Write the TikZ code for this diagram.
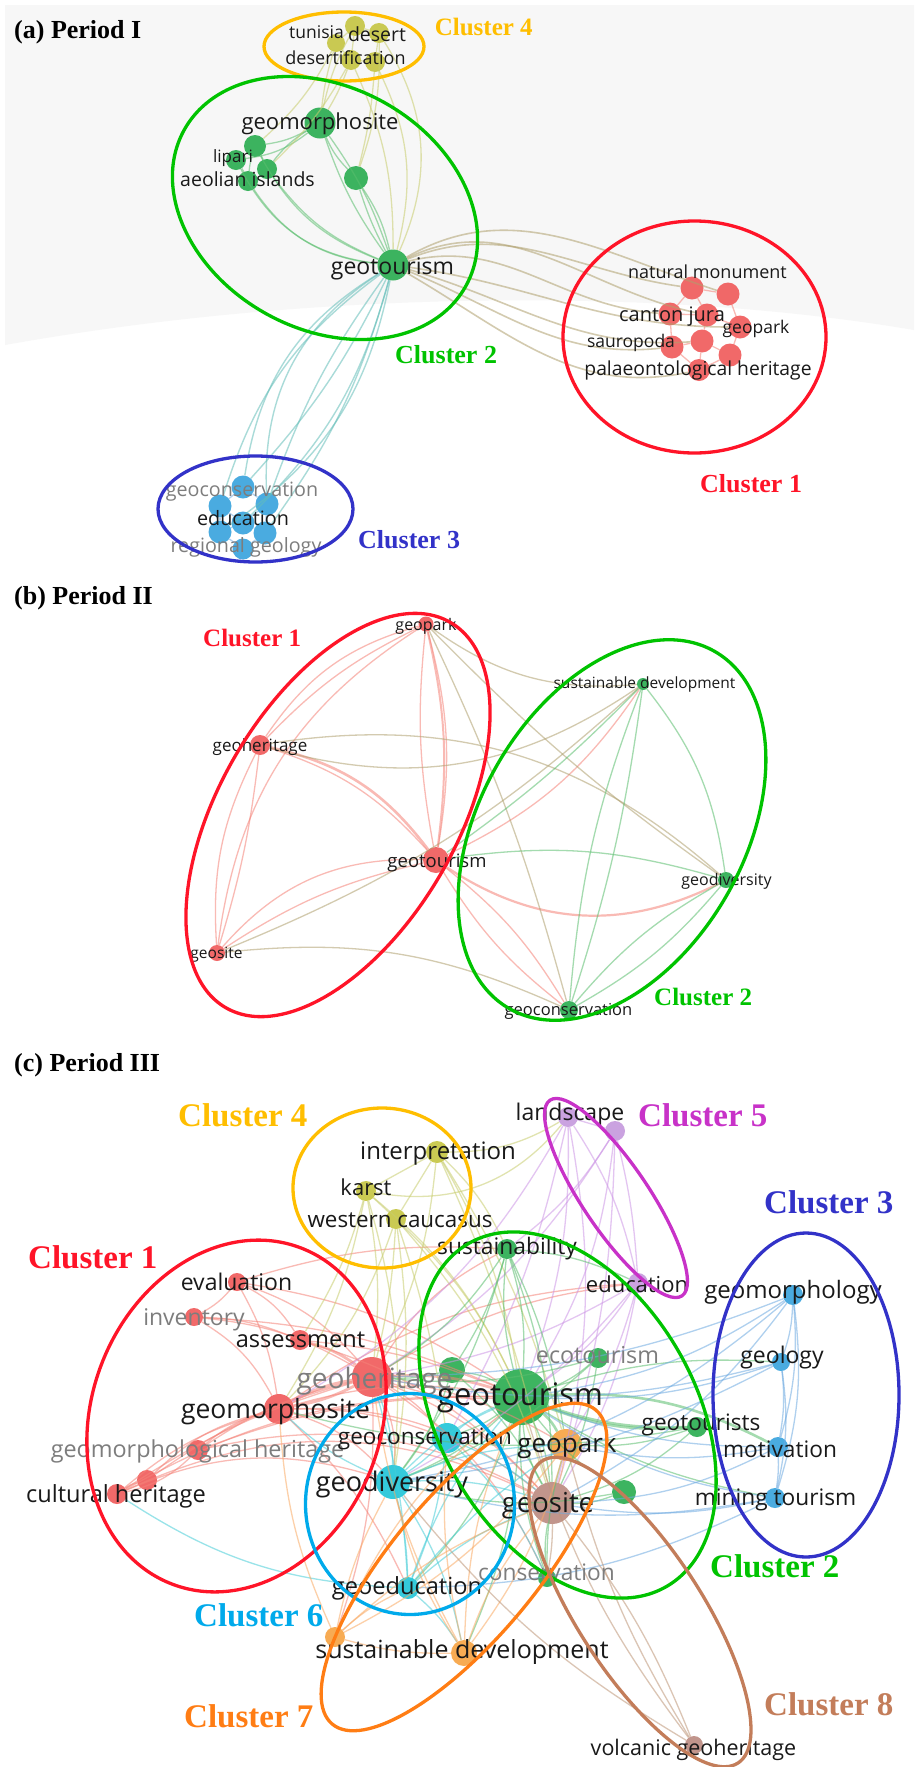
\documentclass[tikz,border=0pt]{standalone}
\usepackage{fontspec}
\setmainfont{Liberation Serif}
\newfontfamily\osans{Open Sans}
\newcommand\fsz[1]{\fontsize{#1}{#1}\selectfont}
\definecolor{nodeRed}{RGB}{240,85,85}
\definecolor{nodeGreen}{RGB}{35,170,75}
\definecolor{nodeBlue}{RGB}{50,160,220}
\definecolor{nodeOlive}{RGB}{195,195,60}
\definecolor{nodeCyan}{RGB}{25,195,215}
\definecolor{nodeOrange}{RGB}{247,160,60}
\definecolor{nodePurple}{RGB}{195,150,220}
\definecolor{nodeBrown}{RGB}{185,135,125}
\definecolor{cRed}{RGB}{255,20,40}
\definecolor{cGreen}{RGB}{0,195,0}
\definecolor{cBlue}{RGB}{50,50,200}
\definecolor{cGold}{RGB}{255,190,0}
\definecolor{cMag}{RGB}{200,50,200}
\definecolor{cCyan}{RGB}{0,170,235}
\definecolor{cOrange}{RGB}{255,125,20}
\definecolor{cBrown}{RGB}{195,125,90}
\definecolor{labBlack}{RGB}{25,25,25}
\definecolor{labGray}{RGB}{125,125,125}
\definecolor{edRed}{RGB}{245,130,120}
\definecolor{edGreen}{RGB}{90,190,110}
\definecolor{edBlue}{RGB}{110,170,225}
\definecolor{edOlive}{RGB}{200,205,110}
\definecolor{edCyan}{RGB}{70,205,215}
\definecolor{edOrange}{RGB}{250,170,100}
\definecolor{edPurple}{RGB}{205,150,230}
\definecolor{edBrown}{RGB}{190,150,120}
\definecolor{edTeal}{RGB}{100,190,185}
\definecolor{edKhaki}{RGB}{175,160,110}
\definecolor{bgGray}{RGB}{247,247,247}
\begin{document}
\begin{tikzpicture}[x=1pt,y=1pt,
  nd/.style={circle,inner sep=0pt,draw=none,fill opacity=.88,minimum size=#1},
  nR/.style={nd=#1,fill=nodeRed}, nG/.style={nd=#1,fill=nodeGreen},
  nB/.style={nd=#1,fill=nodeBlue}, nY/.style={nd=#1,fill=nodeOlive},
  nC/.style={nd=#1,fill=nodeCyan}, nO/.style={nd=#1,fill=nodeOrange},
  nP/.style={nd=#1,fill=nodePurple}, nN/.style={nd=#1,fill=nodeBrown},
  lb/.style={anchor=base,inner sep=0pt,text=labBlack,font=\osans\fsz{#1}},
  lg/.style={lb=#1,text=labGray},
  cl/.style={anchor=base west,inner sep=0pt,font=\bfseries\fsz{#1}},
  ell/.style={line width=3.3pt},
  ed/.style={draw opacity=.55,line width=1.3pt},
  eR/.style={ed,draw=edRed}, eG/.style={ed,draw=edGreen}, eB/.style={ed,draw=edBlue},
  eY/.style={ed,draw=edOlive}, eC/.style={ed,draw=edCyan}, eO/.style={ed,draw=edOrange},
  eP/.style={ed,draw=edPurple}, eN/.style={ed,draw=edBrown}, eT/.style={ed,draw=edTeal},
  eK/.style={ed,draw=edKhaki}]
\useasboundingbox (0,0) rectangle (914,-1767);
\fill[white] (0,0) rectangle (914,-1767);
% ================= PANEL (a) =================
\fill[bgGray] (5,-5) -- (914,-5) -- (914,-330) .. controls (650,-285) and (300,-292) .. (5,-345) -- cycle;
\node[nY=20] (ay1) at (355,-26) {};
\node[nY=20] (ay2) at (379,-33) {};
\node[nY=18] (ay3) at (336,-43) {};
\node[nY=20] (ay4) at (351,-60) {};
\node[nY=20] (ay5) at (375,-62) {};
\node[nG=31] (agm) at (320,-123) {};
\node[nG=22] (alp1) at (255,-146) {};
\node[nG=20] (alp2) at (236,-160) {};
\node[nG=20] (aae1) at (267,-169) {};
\node[nG=20] (aae2) at (248,-181) {};
\node[nG=24] (aun) at (356,-178) {};
\node[nG=31] (agt) at (393,-265) {};
\node[nR=23] (ar1) at (692,-288) {};
\node[nR=23] (ar2) at (728,-294) {};
\node[nR=23] (ar3) at (670,-314) {};
\node[nR=23] (ar4) at (707,-315) {};
\node[nR=23] (ar5) at (740,-327) {};
\node[nR=23] (ar6) at (702,-341) {};
\node[nR=23] (ar7) at (672,-347) {};
\node[nR=23] (ar8) at (730,-355) {};
\node[nR=22] (ar9) at (699,-370) {};
\node[nB=23] (ab1) at (243,-487) {};
\node[nB=23] (ab2) at (220,-506) {};
\node[nB=23] (ab3) at (267,-504) {};
\node[nB=23] (ab4) at (243,-523) {};
\node[nB=23] (ab5) at (220,-532) {};
\node[nB=23] (ab6) at (265,-533) {};
\node[nB=21] (ab7) at (243,-549) {};
\foreach \a/\b/\k in {agt/agm/8,agt/agm/-8,agt/alp1/20,agt/alp2/28,agt/aae1/15,agt/aae2/25,agt/aun/5,agt/aun/-10,agm/alp1/10,agm/aae1/-10,agm/alp2/15,alp1/aae1/5,alp2/aae2/5,agm/aun/-10,alp1/aae2/-5}
  \draw[eG] (\a) to[bend left=\k] (\b);
\foreach \a/\b/\k in {agt/ay4/-12,agt/ay5/-20,agt/ay2/-28,agm/ay3/5,agm/ay4/-5,alp1/ay3/-10,aae1/ay4/-8,aun/ay5/-5,aun/ay2/-10,ay1/ay2/0,ay1/ay3/0,ay3/ay4/0,ay4/ay5/0,ay2/ay5/0,ay1/ay4/0,agm/ay1/8}
  \draw[eY] (\a) to[bend left=\k] (\b);
\foreach \r/\o/\i in {ar1/22/172,ar3/14/176,ar4/26/168,ar2/30/162,ar7/-22/186,ar9/-30/192,ar6/-16/184,ar5/-8/180}
  \draw[eK,line width=1.6pt] (agt) to[out=\o,in=\i] (\r);
\foreach \b/\k in {ab1/-25,ab2/-18,ab3/-30,ab4/15,ab5/22,ab6/10,ab1/8,ab3/-8}
  \draw[eT,line width=1.4pt] (agt) to[bend left=\k] (\b);
\foreach \a/\b in {ar1/ar2,ar1/ar3,ar1/ar4,ar2/ar5,ar3/ar4,ar3/ar7,ar4/ar6,ar5/ar8,ar6/ar9,ar7/ar9,ar8/ar9,ar4/ar5,ar6/ar7,ar6/ar8}
  \draw[eR] (\a) -- (\b);
\foreach \a/\b in {ab1/ab2,ab1/ab3,ab2/ab4,ab3/ab4,ab4/ab5,ab4/ab6,ab5/ab7,ab6/ab7,ab2/ab5,ab3/ab6}
  \draw[eB] (\a) -- (\b);
\node[lb=17.5] (atun) at (316.5,-38) {tunisia};
\node[lb=19.5] (ades) at (377,-41) {desert};
\node[lb=18] (adesf) at (345.5,-64) {desertification};
\node[lb=22] (agml) at (320,-129) {geomorphosite};
\node[lb=17] (alpl) at (233,-162) {lipari};
\node[lb=19.5] (aael) at (247.5,-186) {aeolian islands};
\node[lb=23] (agtl) at (392.5,-274) {geotourism};
\node[lb=18] (anml) at (707.5,-278) {natural monument};
\node[lb=20] (acjl) at (672,-321) {canton jura};
\node[lb=17.5] (agpl) at (756,-333) {geopark};
\node[lb=17.5] (asal) at (631,-347) {sauropoda};
\node[lb=19.3] (apal) at (698,-375) {palaeontological heritage};
\node[lg=19.7] (agcl) at (242,-496) {geoconservation};
\node[lb=19.8] (aedl) at (243,-525) {education};
\node[lg=19.7] (argl) at (246,-552) {regional geology};
\draw[ell,draw=cGold] (344,-46.5) ellipse [x radius=80, y radius=34.5];
\draw[ell,draw=cGreen,rotate around={-29:(325,-208)}] (325,-208) ellipse [x radius=161, y radius=121];
\draw[ell,draw=cRed] (694.5,-337) ellipse [x radius=131.5, y radius=116];
\draw[ell,draw=cBlue] (255.5,-509) ellipse [x radius=97.5, y radius=53];
\node[cl=26] (ata) at (14,-38) {(a) Period I};
\node[cl=25,text=cGold] (ac4) at (434.6,-35) {Cluster 4};
\node[cl=26,text=cGreen] (ac2) at (395,-363) {Cluster 2};
\node[cl=26,text=cRed] (ac1) at (700,-492) {Cluster 1};
\node[cl=26,text=cBlue] (ac3) at (358,-548) {Cluster 3};
% ================= PANEL (b) =================
\node[nR=15] (bgp) at (426,-624) {};
\node[nG=12] (bsd) at (643,-684) {};
\node[nR=20] (bgh) at (260,-745) {};
\node[nR=26] (bgt) at (436,-860) {};
\node[nR=16] (bgs) at (217,-953) {};
\node[nG=18] (bgc) at (569,-1010) {};
\node[nG=16] (bgd) at (726,-880) {};
\foreach \a/\b/\k in {bgp/bgh/-20,bgp/bgh/-10,bgp/bgs/-25,bgp/bgt/-8,bgp/bgt/12,bgh/bgt/15,bgh/bgs/-15,bgh/bgs/5,bgs/bgt/25,bgs/bgt/10,bgt/bsd/-15,bgt/bgc/10,bgt/bgc/-10}
  \draw[eR] (\a) to[bend left=\k] (\b);
\draw[eR,line width=2.6pt] (bgh) to[bend left=20] (bgt);
\draw[eR,line width=2.2pt] (bgt) to[bend left=-30] (bgd);
\draw[eR,line width=2pt] (bgp) to[bend left=10] (bgt);
\foreach \a/\b/\k in {bgp/bsd/-20,bgh/bgd/25,bgh/bsd/-25,bgp/bgd/-5,bgp/bgc/5,bgs/bgc/15,bgs/bsd/-10}
  \draw[eK] (\a) to[bend left=\k] (\b);
\foreach \a/\b/\k in {bsd/bgd/15,bsd/bgc/5,bsd/bgc/-8,bgd/bgc/10,bgd/bgc/-10,bgt/bgd/12,bsd/bgt/5}
  \draw[eG] (\a) to[bend left=\k] (\b);
\node[lb=16] (bgpl) at (426,-630) {geopark};
\node[lb=15.5] (bsdl) at (644.5,-688) {sustainable development};
\node[lb=17] (bghl) at (260,-751) {geoheritage};
\node[lb=18.5] (bgtl) at (437,-867) {geotourism};
\node[lb=15.5] (bgsl) at (216.5,-958) {geosite};
\node[lb=16.5] (bgcl) at (568.5,-1015) {geoconservation};
\node[lb=16] (bgdl) at (726.5,-885) {geodiversity};
\draw[ell,draw=cRed,rotate around={59.7:(338,-815)}] (338,-815) ellipse [x radius=223, y radius=118.5];
\draw[ell,draw=cGreen,rotate around={60:(612,-830)}] (612,-830) ellipse [x radius=206, y radius=132];
\node[cl=26] (btb) at (14,-604) {(b) Period II};
\node[cl=25,text=cRed] (bc1) at (203,-646) {Cluster 1};
\node[cl=25,text=cGreen] (bc2) at (654,-1005) {Cluster 2};
% ================= PANEL (c) =================
\node[nY=22] (cint) at (437,-1152) {};
\node[nY=20] (ckar) at (366,-1191) {};
\node[nY=20] (cwc) at (396,-1219) {};
\node[nP=20] (cls) at (568,-1117) {};
\node[nP=20] (cp2) at (615,-1131) {};
\node[nP=20] (cedu) at (638,-1283) {};
\node[nB=20] (cgmy) at (793,-1295) {};
\node[nB=18] (cgeol) at (781,-1362) {};
\node[nB=20] (cmot) at (778,-1447) {};
\node[nB=20] (cmin) at (775,-1498) {};
\node[nR=18] (cev) at (237,-1282) {};
\node[nR=18] (cinv) at (194,-1317) {};
\node[nR=20] (cas) at (300,-1340) {};
\node[nR=40] (cgh) at (372,-1377) {};
\node[nR=30] (cgm) at (279,-1409) {};
\node[nR=20] (cgmh) at (198,-1450) {};
\node[nR=20] (cr7) at (147,-1480) {};
\node[nR=20] (cch) at (117,-1494) {};
\node[nC=30] (cgcons) at (447,-1438) {};
\node[nC=34] (cgdiv) at (393,-1482) {};
\node[nC=22] (cgedu) at (408,-1588) {};
\node[nG=56] (cgt) at (521,-1397) {};
\node[nG=20] (csus) at (507,-1249) {};
\node[nG=20] (ceco) at (598,-1358) {};
\node[nG=26] (cg4) at (452,-1370) {};
\node[nG=20] (cgts) at (697,-1427) {};
\node[nG=24] (cg6) at (624,-1492) {};
\node[nG=18] (ccons) at (547,-1578) {};
\node[nO=32] (cgp) at (566,-1445) {};
\node[nO=26] (csd) at (464,-1653) {};
\node[nO=20] (co3) at (335,-1637) {};
\node[nN=42] (cgs) at (552,-1503) {};
\node[nN=18] (cvg) at (694,-1745) {};
\foreach \a/\b/\k in {cev/cas/15,cev/cgh/15,cev/cgm/10,cinv/cas/10,cinv/cgh/12,cinv/cgm/15,cgmh/cgm/12,cgmh/cgh/10,cch/cgm/12,cch/cgh/8,cr7/cgm/15,cr7/cgh/10,cch/cr7/10,cgmh/cch/15,cev/cinv/10,cgh/cgdiv/15,cgh/cgcons/10,cgh/cgs/12,cgh/cgp/10,cgh/csus/15,cgm/cgt/12,cgm/cgdiv/15,cgm/cgcons/10,cgm/cgs/20,cch/cgs/25,cch/cgt/15,cev/cgt/12,cas/cgt/8,cinv/cgt/10,cev/csus/10,cgm/cedu/15,cgh/ccons/15,cgmh/cgt/10,cgh/cedu/12,cch/cgdiv/20,cgm/cgedu/10,cgh/co3/10,cgh/cgt/-10,cas/cgs/15,cgmh/cgs/20}
  \draw[eR] (\a) to[bend left=\k] (\b);
\foreach \a/\b/\k in {cas/cgh/10,cgm/cgh/10,cgh/cgt/10,cgm/cgh/-8}
  \draw[eR,line width=2.8pt] (\a) to[bend left=\k] (\b);
\foreach \a/\b/\k in {cint/ckar/0,cint/cwc/0,ckar/cwc/0,cint/cgt/10,ckar/cgt/12,cwc/cgt/10,cint/cgh/10,ckar/cgh/8,cwc/cgs/12,cint/cgp/8,ckar/cgdiv/10,cwc/cgdiv/8,cint/csus/10,ckar/cgm/10,cwc/cgm/12,cwc/cgcons/5,cint/cls/-15,ckar/cas/8,cint/cgs/6,cwc/cgh/5,ckar/cls/-30}
  \draw[eY] (\a) to[bend left=\k] (\b);
\foreach \a/\b/\k in {cls/cp2/0,cls/cedu/10,cp2/cedu/5,cls/cgt/10,cp2/cgt/12,cedu/cgt/10,cls/cgs/12,cedu/cgs/10,cp2/cgh/12,cedu/cgh/10,cedu/cgdiv/10,cls/cgcons/8,cp2/csus/10,cedu/cgp/8,cls/cgm/15,cp2/cgs/8}
  \draw[eP] (\a) to[bend left=\k] (\b);
\foreach \a/\b/\k in {csus/cgt/10,csus/cgh/12,csus/cgs/10,csus/cgp/8,csus/cgdiv/10,ceco/cgt/10,ceco/cgs/8,cg4/cgt/10,cgts/cgs/12,cg6/cgt/10,cg6/cgs/10,ccons/cgt/10,ccons/cgs/8,ccons/cgp/8,cgt/cgs/10,cgt/cgdiv/10,cgt/cgcons/8,cgt/cgedu/12,cgts/cgp/10,cgt/csd/10,csus/cedu/10,ceco/cgh/10,cg4/cgs/10,cg4/cgh/8,cg4/cgdiv/10,csus/cg4/8,cgts/cgm/12,cg6/cgdiv/12,ceco/cgdiv/10,cgt/cgs/-12,csus/cgt/-10,cgt/cgeol/10,cgt/cmin/-10}
  \draw[eG] (\a) to[bend left=\k] (\b);
\foreach \a/\b/\k in {cgt/cgp/10,cgts/cgt/10,cgt/cmot/15,cgt/cgts/-12}
  \draw[eG,line width=2.6pt] (\a) to[bend left=\k] (\b);
\foreach \a/\b/\k in {cgmy/cgeol/8,cgmy/cmot/10,cgmy/cmin/12,cgeol/cmot/8,cgeol/cmin/10,cmot/cmin/5,cgmy/cgt/12,cgeol/cgt/10,cmot/cgt/10,cmin/cgt/12,cmot/cgs/12,cmin/cgs/10,cgmy/cgs/12,cgeol/cgdiv/10,cmin/cgdiv/12,cmot/cgp/10,cgmy/cgh/10,cmin/cgedu/12,cgeol/cgh/12,cgmy/cgdiv/15}
  \draw[eB] (\a) to[bend left=\k] (\b);
\foreach \a/\b/\k in {cgcons/cgdiv/5,cgcons/cgedu/8,cgdiv/cgedu/6,cgdiv/cgs/10,cgcons/cgs/8,cgedu/cgs/10,cgedu/cgt/10,cgdiv/cgp/10,cgedu/cgp/8,cgdiv/csd/10,cgedu/csd/8,cgcons/ccons/10,cgdiv/cgm/10,cgedu/cch/15,cgdiv/cgt/10,cgcons/cgt/8,cgedu/cgh/-6,cgdiv/cgh/-10}
  \draw[eC] (\a) to[bend left=\k] (\b);
\foreach \a/\b/\k in {cgp/csd/10,cgp/co3/12,csd/co3/8,csd/cgs/10,co3/cgs/10,csd/cgt/10,co3/cgt/12,csd/cgdiv/10,co3/cgdiv/8,cgp/cgs/5,csd/cgh/10,co3/cgm/10,csd/cgcons/8,co3/cgedu/8}
  \draw[eO] (\a) to[bend left=\k] (\b);
\foreach \a/\b/\k in {cgs/cvg/8,cvg/cgt/10,cvg/cgp/8,cgs/ccons/5,cvg/cgdiv/10}
  \draw[eN] (\a) to[bend left=\k] (\b);
\node[lb=24] (cintl) at (438,-1159) {interpretation};
\node[lb=22] (ckarl) at (366,-1195) {karst};
\node[lb=22.4] (cwcl) at (400,-1227) {western caucasus};
\node[lb=23] (clsl) at (570,-1120) {landscape};
\node[lb=22] (cedul) at (637,-1292) {education};
\node[lb=22.8] (csusl) at (507,-1254) {sustainability};
\node[lb=23] (cevl) at (236.5,-1290) {evaluation};
\node[lg=23] (cinvl) at (194,-1325) {inventory};
\node[lb=23.6] (casl) at (300.5,-1347) {assessment};
\node[lg=28] (cghl) at (374.5,-1388) {geoheritage};
\node[lb=26.5] (cgml) at (275.5,-1418) {geomorphosite};
\node[lg=23.4] (cgmhl) at (197.5,-1457) {geomorphological heritage};
\node[lb=23.6] (cchl) at (116,-1502) {cultural heritage};
\node[lb=22.5] (cgconsl) at (425,-1444) {geoconservation};
\node[lb=27] (cgdivl) at (392,-1491) {geodiversity};
\node[lb=23.6] (cgedul) at (407,-1594) {geoeducation};
\node[lb=31] (cgtl) at (520,-1405) {geotourism};
\node[lg=23.3] (cecol) at (597.5,-1363) {ecotourism};
\node[lb=22.6] (cgtsl) at (701,-1430) {geotourists};
\node[lb=26] (cgpl) at (567,-1452) {geopark};
\node[lb=27.5] (cgsl) at (548,-1512) {geosite};
\node[lg=22.7] (cconsl) at (546.5,-1580) {conservation};
\node[lb=25] (csdl) at (462,-1658) {sustainable development};
\node[lb=21.5] (cvgl) at (693.5,-1755) {volcanic geoheritage};
\node[lb=24] (cgmyl) at (793,-1298) {geomorphology};
\node[lb=23] (cgeoll) at (782,-1363) {geology};
\node[lb=22.7] (cmotl) at (780,-1457) {motivation};
\node[lb=22.7] (cminl) at (775.5,-1505) {mining tourism};
\draw[ell,draw=cGold] (382,-1188) ellipse [x radius=89, y radius=80];
\draw[ell,draw=cMag,rotate around={-56:(616,-1198)}] (616,-1198) ellipse [x radius=118, y radius=33];
\draw[ell,draw=cBlue] (806,-1395) ellipse [x radius=93, y radius=162];
\draw[ell,draw=cRed,rotate around={69:(236.5,-1416)}] (236.5,-1416) ellipse [x radius=180, y radius=144.6];
\draw[ell,draw=cGreen,rotate around={-60:(567.5,-1415)}] (567.5,-1415) ellipse [x radius=198, y radius=128];
\draw[ell,draw=cCyan] (410,-1504) ellipse [x radius=104.5, y radius=110.5];
\draw[ell,draw=cOrange,rotate around={50:(464,-1567)}] (464,-1567) ellipse [x radius=205, y radius=72];
\draw[ell,draw=cBrown,rotate around={-57:(640,-1612)}] (640,-1612) ellipse [x radius=180, y radius=62];
\node[cl=26] (ctc) at (14,-1071) {(c) Period III};
\node[cl=33,text=cGold] (cc4) at (178,-1126) {Cluster 4};
\node[cl=33,text=cMag] (cc5) at (638,-1126) {Cluster 5};
\node[cl=33,text=cBlue] (cc3) at (764,-1213) {Cluster 3};
\node[cl=33,text=cRed] (cc1) at (28,-1268) {Cluster 1};
\node[cl=33,text=cGreen] (cc2) at (710,-1577) {Cluster 2};
\node[cl=33,text=cCyan] (cc6) at (194,-1626) {Cluster 6};
\node[cl=33,text=cOrange] (cc7) at (184,-1727) {Cluster 7};
\node[cl=33,text=cBrown] (cc8) at (764,-1715) {Cluster 8};
\end{tikzpicture}
\end{document}
